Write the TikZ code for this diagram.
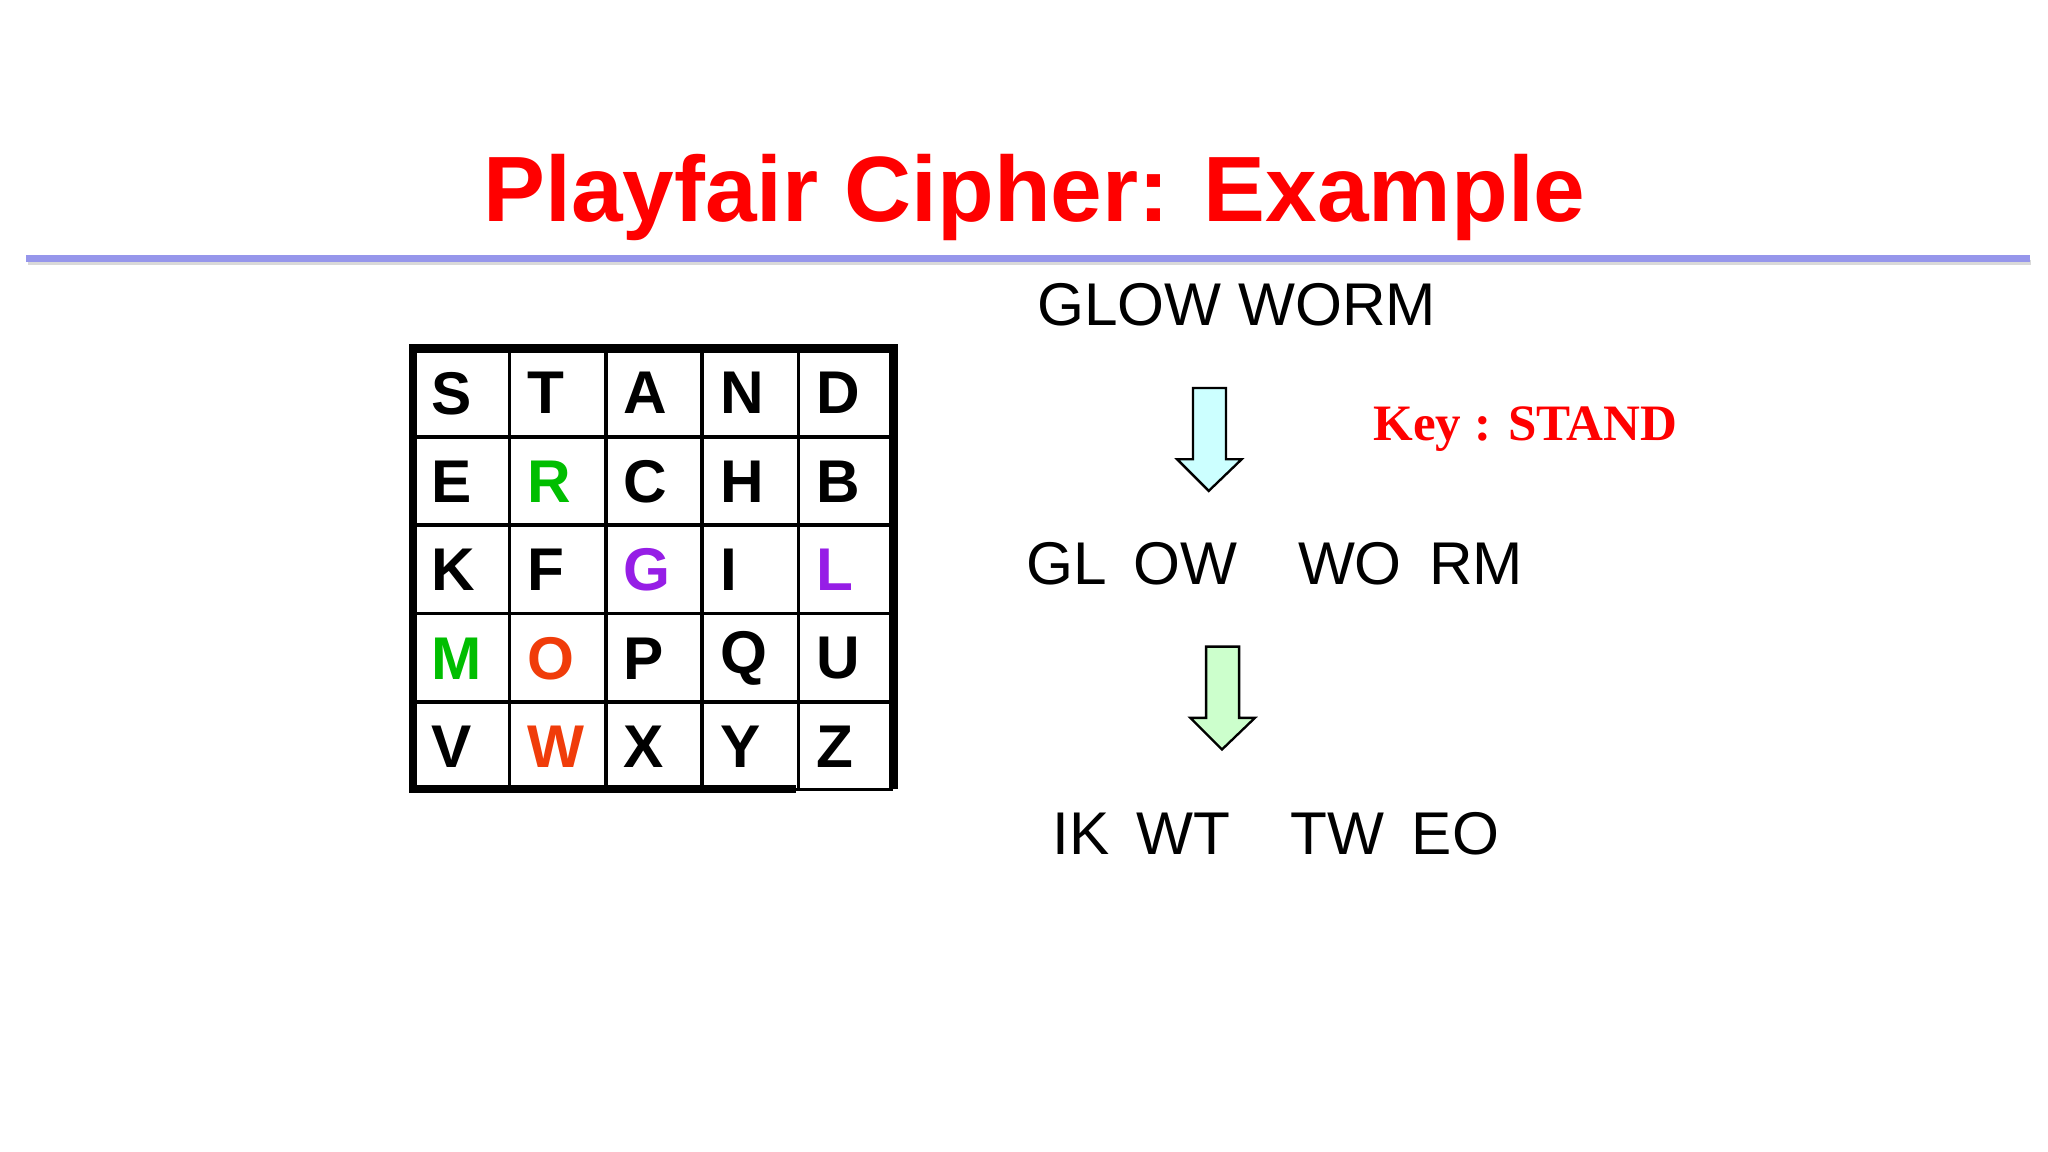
\documentclass[tikz,border=0pt]{standalone}
\usepackage{fontspec}
\setmainfont{Liberation Sans}
\newfontfamily\serifb{Liberation Serif}
\begin{document}
\begin{tikzpicture}[x=0.01cm,y=-0.01cm,
  cell/.style={font=\fontsize{13}{13}\selectfont\bfseries,anchor=center},
  txt/.style={font=\fontsize{13}{15}\selectfont,anchor=center,inner sep=0pt},
  barrow/.style={draw=black,line width=0.5pt}]
\useasboundingbox (0,0) rectangle (1552,873);
\definecolor{titlered}{RGB}{255,0,0}
\definecolor{gr}{RGB}{0,190,0}
\definecolor{pu}{RGB}{150,30,230}
\definecolor{og}{RGB}{240,60,10}
\node[font=\fontsize{20}{22}\selectfont\bfseries,text=titlered] (title) at (784,150) {Playfair Cipher: Example};
\draw[line width=1.2pt,black!15] (21,199) -- (1539,199);
\draw[line width=1.4pt,color={rgb,255:red,150;green,150;blue,235}] (20,196) -- (1538,196);
% grid
\foreach \i in {1,...,4}{
  \draw[line width=0.8pt] (313+73*\i,264) -- (313+73*\i,598);
  \draw[line width=0.8pt] (313,264+67*\i) -- (677,264+67*\i);}
\draw[line width=0.6pt] (603,598) -- (677,598);
\draw[line width=1.8pt] (603,598) -- (313,598) -- (313,264) -- (677,264) -- (677,598);
\foreach \r/\letters in {0/{S,T,A,N,D},1/{E,R,C,H,B},2/{K,F,G,I,L},3/{M,O,P,Q,U},4/{V,W,X,Y,Z}}{
  \foreach \l [count=\c from 0] in \letters{
    \node[cell,anchor=west,inner sep=0pt] (c\r\c) at (326+73*\c,298+67*\r) {\phantom{W}};}}
\foreach \r/\letters in {0/{S/black,T/black,A/black,N/black,D/black},1/{E/black,R/gr,C/black,H/black,B/black},2/{K/black,F/black,G/pu,I/black,L/pu},3/{M/gr,O/og,P/black,Q/black,U/black},4/{V/black,W/og,X/black,Y/black,Z/black}}{
  \foreach \l/\col [count=\c from 0] in \letters{
    \node[cell,anchor=west,inner sep=0pt,text=\col] at (c\r\c.west) {\l};}}
\node[txt] (pt) at (937,231) {GLOW WORM};
\node[font=\serifb\fontsize{11}{13}\selectfont\bfseries,text=titlered] (key) at (1156,325) {Key : STAND};
\draw[barrow,fill={rgb,255:red,204;green,255;blue,255}] (904,294) -- (929,294) -- (929,348) -- (941,348) -- (916,372) -- (892,348) -- (904,348) -- cycle;
\node[txt,anchor=west] (dg) at (777,427) {GL\hspace{0.45em}OW\hspace{1em}WO\hspace{0.45em}RM};
\draw[barrow,fill={rgb,255:red,204;green,255;blue,204}] (914,490) -- (939,490) -- (939,544) -- (951,544) -- (926,568) -- (902,544) -- (914,544) -- cycle;
\node[txt,anchor=west] (ct) at (797,632) {IK\hspace{0.45em}WT\hspace{1em}TW\hspace{0.45em}EO};
\end{tikzpicture}
\end{document}
